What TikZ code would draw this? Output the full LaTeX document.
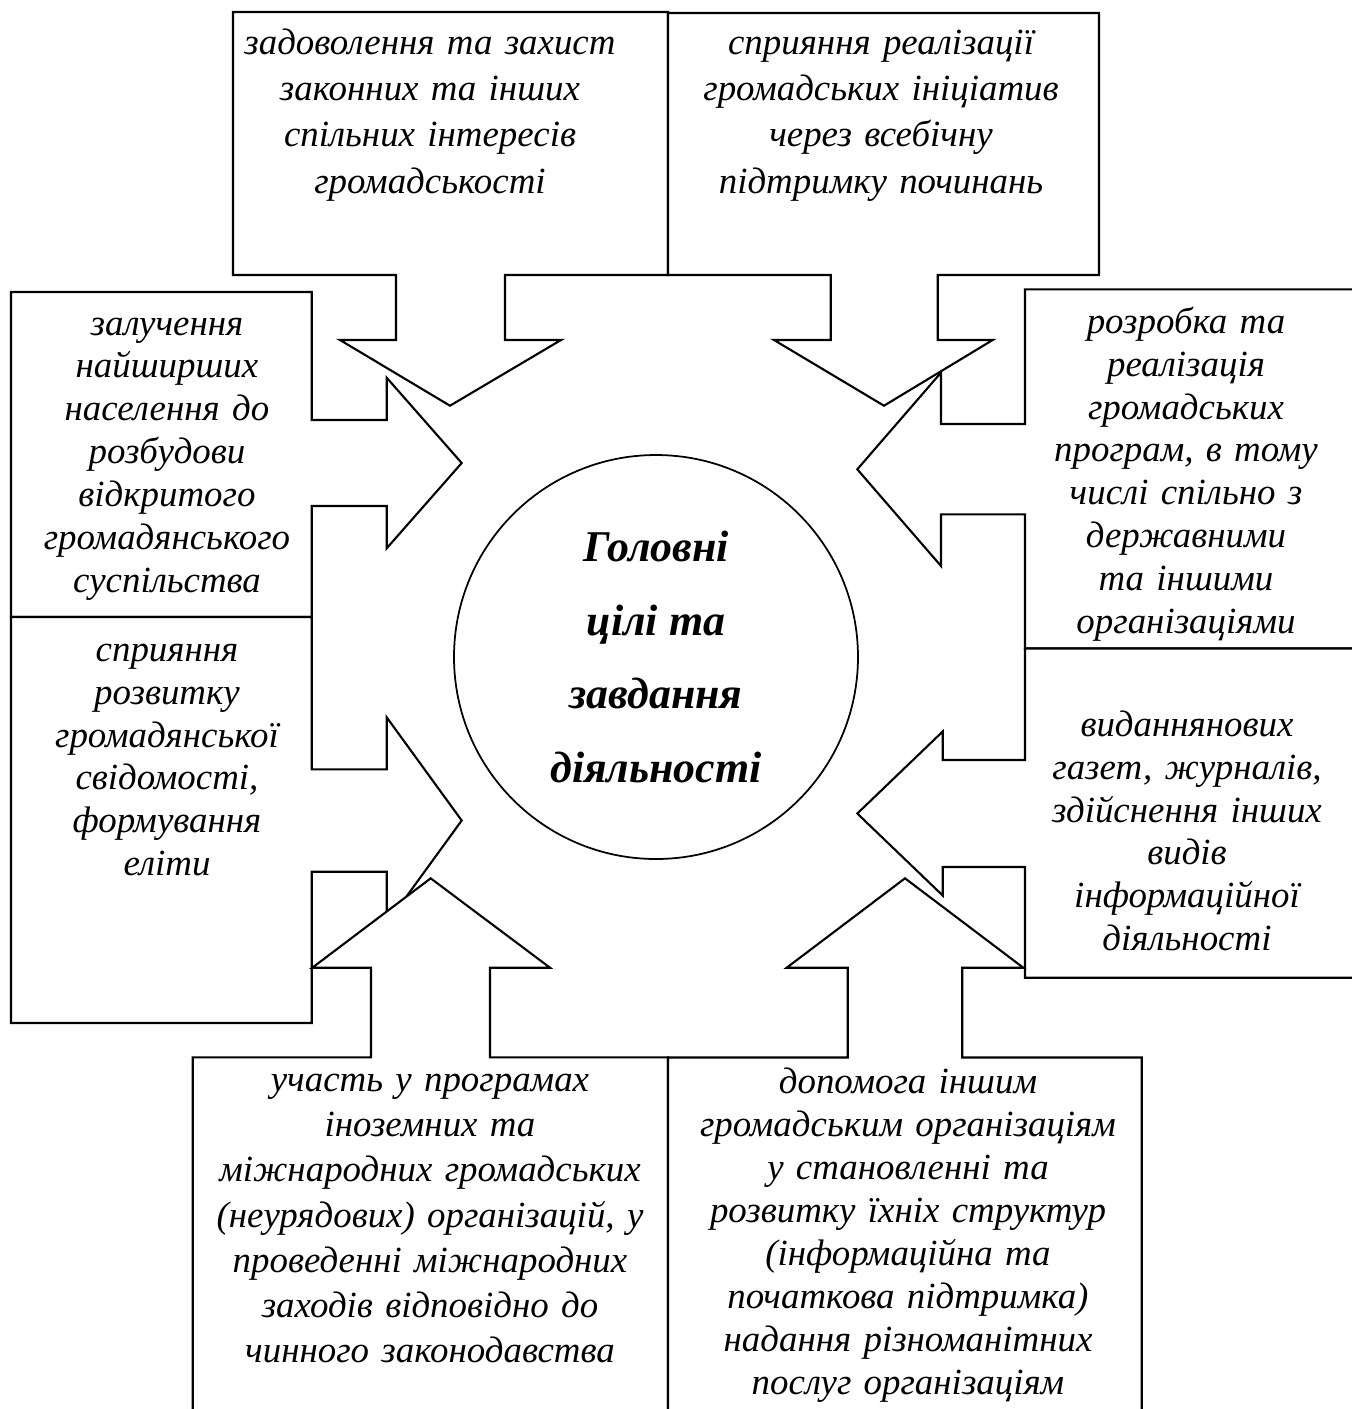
\documentclass[tikz,border=0pt]{standalone}
\usepackage{fontspec}
\setmainfont{Liberation Serif}
\begin{document}
\begin{tikzpicture}[x=0.1mm,y=-0.1mm,
 callout/.style={draw=black,fill=white,line width=0.6pt,line join=miter},
 aim/.style={font=\fontsize{10.5}{#1}\selectfont\itshape,align=center,
  anchor=base,inner sep=0pt,text width=6cm},
 aim/.default=12.2pt,
 hub/.style={circle,draw=black,fill=white,line width=0.5pt,minimum size=4.04cm,
  inner sep=0pt,align=center,font=\fontsize{12.5}{21}\selectfont\bfseries\itshape}]
\useasboundingbox (0,0) rectangle (1352,1409);
\clip (0,0) rectangle (1352,1409);
% top row
\draw[callout] (233,12) -- (668,12) -- (668,275) -- (505,275) -- (505,340) -- (561,340)
 -- (450,405.7) -- (340,340) -- (396,340) -- (396,275) -- (233,275) -- cycle;
\draw[callout] (668,13) -- (1099,13) -- (1099,275) -- (937.7,275) -- (937.7,340) -- (992.7,340)
 -- (884,405.7) -- (774,340) -- (830.7,340) -- (830.7,275) -- (668,275) -- cycle;
% left column
\draw[callout] (11,292) -- (311.7,292) -- (311.7,420) -- (386.7,420) -- (386.7,377.7)
 -- (461.7,463) -- (386.7,548.3) -- (386.7,506) -- (311.7,506) -- (311.7,617) -- (11,617) -- cycle;
\draw[callout] (11,617) -- (311.7,617) -- (311.7,769.3) -- (386.7,769.3) -- (386.7,717.3)
 -- (461.7,820.5) -- (386.7,923.7) -- (386.7,871.7) -- (311.7,871.7) -- (311.7,1023) -- (11,1023) -- cycle;
% right column
\draw[callout] (1360,289.3) -- (1025,289.3) -- (1025,424) -- (941,424) -- (941,372.6)
 -- (857.3,469.3) -- (941,566) -- (941,514.3) -- (1025,514.3) -- (1025,648.5) -- (1360,648.5) -- cycle;
\draw[callout] (1360,648.5) -- (1025,648.5) -- (1025,760) -- (942.7,760) -- (942.7,731.5)
 -- (857.3,813.5) -- (942.7,895.5) -- (942.7,867) -- (1025,867) -- (1025,977.7) -- (1360,977.7) -- cycle;
% bottom row
\draw[callout] (192.7,1420) -- (192.7,1057.3) -- (371,1057.3) -- (371,967.7) -- (312.3,967.7)
 -- (430.7,878.3) -- (550,967.7) -- (490,967.7) -- (490,1057.3) -- (668,1057.3) -- (668,1420) -- cycle;
\draw[callout] (668,1420) -- (668,1057.5) -- (847.7,1057.5) -- (847.7,967.7) -- (786.7,967.7)
 -- (905,878.3) -- (1023.3,967.7) -- (962.3,967.7) -- (962.3,1057.5) -- (1141.7,1057.5) -- (1141.7,1420) -- cycle;
% centre
\node[hub] (goal) at (656,657) {Головні\\цілі та\\завдання\\діяльності};
% texts
\node[aim=13.2pt] (tl) at (430,54) {задоволення та захист\\законних та інших\\спільних інтересів\\громадськості};
\node[aim=13.2pt] (tr) at (881,54) {сприяння реалізації\\громадських ініціатив\\через всебічну\\підтримку починань};
\node[aim] (ml) at (167,335) {залучення\\найширших\\населення до\\розбудови\\відкритого\\громадянського\\суспільства};
\node[aim=12.15pt] (ll) at (167,661.7) {сприяння\\розвитку\\громадянської\\свідомості,\\формування\\еліти};
\node[aim] (mr1) at (1186,333.3) {розробка та\\реалізація\\громадських\\програм, в тому\\числі спільно з\\державними\\та іншими\\організаціями};
\node[aim=12.15pt] (mr2) at (1187,736.7) {виданнянових\\газет, журналів,\\здійснення інших\\видів\\інформаційної\\діяльності};
\node[aim=12.86pt] (bl) at (430,1091.5) {участь у програмах\\іноземних та\\міжнародних громадських\\(неурядових) організацій, у\\проведенні міжнародних\\заходів відповідно до\\чинного законодавства};
\node[aim=12.25pt] (br) at (908,1093.3) {допомога іншим\\громадським організаціям\\у становленні та\\розвитку їхніх структур\\(інформаційна та\\початкова підтримка)\\надання різноманітних\\послуг організаціям};
\end{tikzpicture}
\end{document}
